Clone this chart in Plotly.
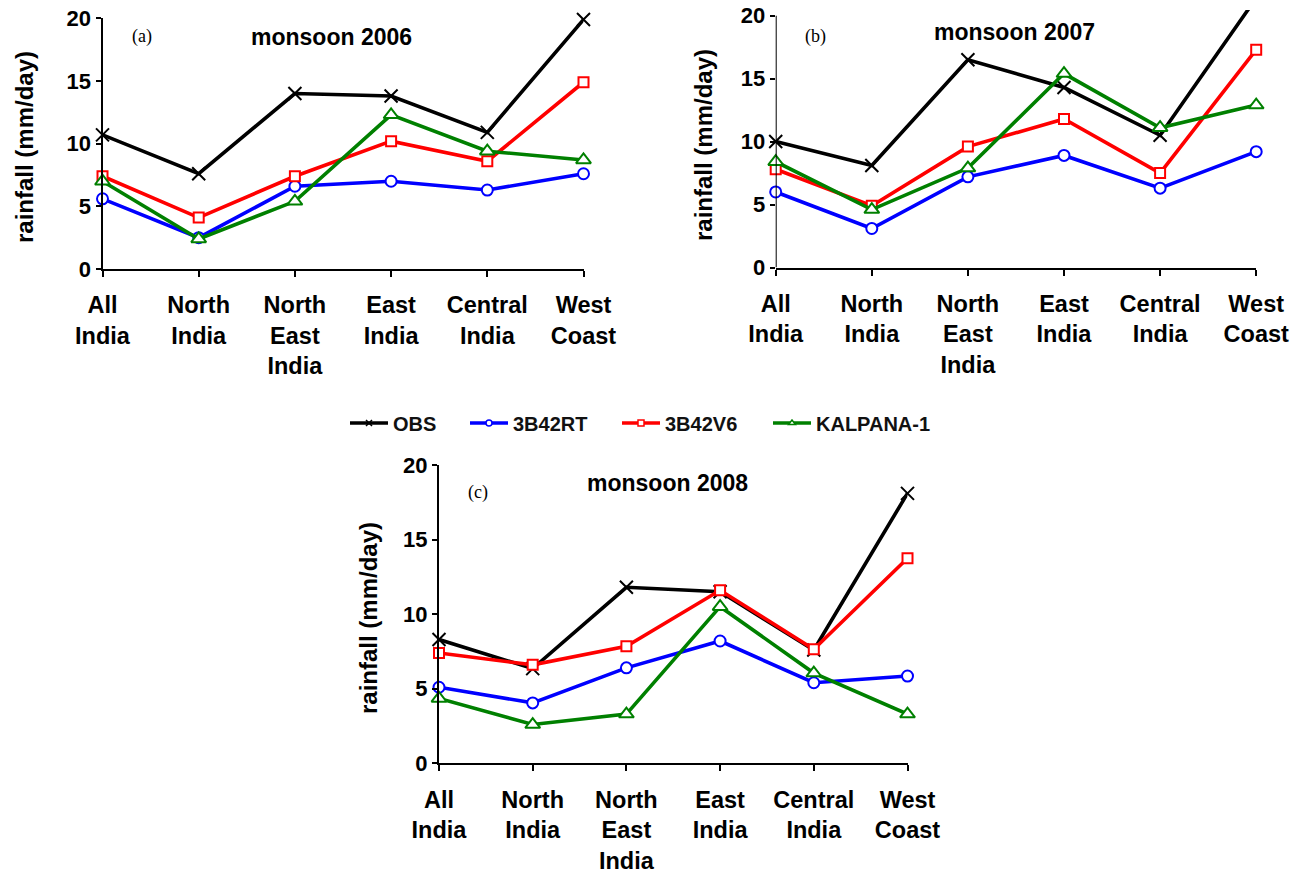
import plotly.graph_objects as go

# ---------------- data ----------------
categories = ["All India", "North India", "North East India", "East India", "Central India", "West Coast"]
tick_labels = ["All<br>India", "North<br>India", "North<br>East<br>India", "East<br>India",
               "Central<br>India", "West<br>Coast"]
series_names = ["OBS", "3B42RT", "3B42V6", "KALPANA-1"]

obs_2006 = [10.7, 7.6, 14.0, 13.8, 10.9, 19.9]
rt_2006 = [5.6, 2.5, 6.6, 7.0, 6.3, 7.6]
v6_2006 = [7.4, 4.1, 7.4, 10.2, 8.6, 14.9]
kal_2006 = [7.0, 2.4, 5.4, 12.3, 9.4, 8.7]

obs_2007 = [10.0, 8.1, 16.5, 14.3, 10.5, 21.4]
rt_2007 = [6.0, 3.1, 7.2, 8.9, 6.3, 9.2]
v6_2007 = [7.8, 4.9, 9.6, 11.8, 7.5, 17.3]
kal_2007 = [8.4, 4.6, 7.9, 15.4, 11.1, 12.9]

obs_2008 = [8.3, 6.35, 11.8, 11.5, 7.6, 18.1]
rt_2008 = [5.1, 4.05, 6.4, 8.2, 5.4, 5.85]
v6_2008 = [7.4, 6.6, 7.85, 11.6, 7.65, 13.75]
kal_2008 = [4.35, 2.6, 3.3, 10.5, 6.05, 3.3]

y_ticks = [0, 5, 10, 15, 20]
panel_titles = ["monsoon 2006", "monsoon 2007", "monsoon 2008"]
panel_tags = ["(a)", "(b)", "(c)"]
y_title = "rainfall (mm/day)"

# ---------------- layout helpers ----------------
W, H = 1299, 878
FONT = "Liberation Sans, Arial, sans-serif"
SERIF = "Liberation Serif, Times New Roman, serif"


def fx(p):
    return p / W


def fy(p):
    return 1 - p / H


styles = {
    "OBS": dict(color="#000000", symbol="x-thin", size=13, fill="#000000"),
    "3B42RT": dict(color="#0000FF", symbol="circle", size=11, fill="#FFFFFF"),
    "3B42V6": dict(color="#FF0000", symbol="square", size=10, fill="#FFFFFF"),
    "KALPANA-1": dict(color="#008000", symbol="triangle-up", size=13, fill="#FFFFFF"),
}

panels = [
    dict(xa="x", ya="y", data=[obs_2006, rt_2006, v6_2006, kal_2006],
         xdom=[fx(102.5), fx(583.5)], ydom=[fy(269.0), fy(18.3)], yrange=[0, 20],
         title_xy=(331, 37), tag_xy=(141.7, 36.7), ytitle_xy=(24, 147)),
    dict(xa="x2", ya="y2", data=[obs_2007, rt_2007, v6_2007, kal_2007],
         xdom=[fx(775.7), fx(1256.2)], ydom=[fy(267.5), fy(10.0)], yrange=[0, 20.45],
         title_xy=(1014, 32), tag_xy=(815, 36.7), ytitle_xy=(703, 145)),
    dict(xa="x3", ya="y3", data=[obs_2008, rt_2008, v6_2008, kal_2008],
         xdom=[fx(439.0), fx(907.5)], ydom=[fy(763.3), fy(465.0)], yrange=[0, 20],
         title_xy=(667, 483), tag_xy=(478, 492), ytitle_xy=(368, 618)),
]

fig = go.Figure()

for p in panels:
    for name, vals in zip(series_names, p["data"]):
        st = styles[name]
        fig.add_trace(go.Scatter(
            x=categories, y=vals, name=name, mode="lines+markers",
            xaxis=p["xa"], yaxis=p["ya"], showlegend=False, cliponaxis=False,
            line=dict(color=st["color"], width=3.6),
            marker=dict(symbol=st["symbol"], size=st["size"], color=st["fill"],
                        line=dict(color=st["color"], width=2)),
        ))

# legend entries (one legend per series so they can be spaced like the original)
legend_ids = ["legend", "legend2", "legend3", "legend4"]
legend_left = [345, 465, 617, 768]
for name, lid in zip(series_names, legend_ids):
    st = styles[name]
    fig.add_trace(go.Scatter(
        x=[None], y=[None], name=name, mode="lines+markers", legend=lid,
        xaxis="x3", yaxis="y3", showlegend=True,
        line=dict(color=st["color"], width=3.5),
        marker=dict(symbol=st["symbol"], size=6, color=st["fill"],
                    line=dict(color=st["color"], width=1.5)),
    ))

layout = dict(
    width=W, height=H, margin=dict(l=0, r=0, t=0, b=0, autoexpand=False),
    paper_bgcolor="white", plot_bgcolor="white",
    font=dict(family=FONT, color="black"),
)

for i, p in enumerate(panels):
    sfx = "" if i == 0 else str(i + 1)
    layout["xaxis" + sfx] = dict(
        domain=p["xdom"], anchor=p["ya"], type="category", automargin=False,
        categoryorder="array", categoryarray=categories, range=[0, 5],
        tickvals=categories, ticktext=tick_labels, ticklabelstandoff=8,
        ticks="outside", ticklen=6, tickwidth=2, tickcolor="black",
        showline=True, linecolor="black", linewidth=2,
        showgrid=False, zeroline=False,
        tickfont=dict(family=FONT, size=23.5, color="black", weight="bold"),
    )
    layout["yaxis" + sfx] = dict(
        domain=p["ydom"], anchor=p["xa"], range=p["yrange"], automargin=False,
        tickvals=y_ticks, ticks="outside", ticklen=5, tickwidth=2, tickcolor="black",
        showline=(i != 1), linecolor="black", linewidth=2,
        showgrid=False, zeroline=False,
        tickfont=dict(family=FONT, size=22, color="black", weight="bold"),
    )

for lid, left in zip(legend_ids, legend_left):
    layout[lid] = dict(
        x=fx(left), y=fy(423), xanchor="left", yanchor="middle",
        orientation="h", bgcolor="rgba(0,0,0,0)", borderwidth=0,
        font=dict(family=FONT, size=20, color="#111111", weight="bold"),
        itemwidth=38,
    )

fig.update_layout(**layout)

# y axis line of panel (b) stops at 20 while the plot area continues a bit higher
fig.add_shape(type="line", xref="x2", yref="y2", x0=0, x1=0, y0=0, y1=20,
              line=dict(color="black", width=2), layer="above")

for i, p in enumerate(panels):
    tx, ty = p["title_xy"]
    fig.add_annotation(text=panel_titles[i], x=fx(tx), y=fy(ty), xref="paper", yref="paper",
                       showarrow=False, xanchor="center", yanchor="middle",
                       font=dict(family=FONT, size=23, color="black", weight="bold"))
    gx, gy = p["tag_xy"]
    fig.add_annotation(text=panel_tags[i], x=fx(gx), y=fy(gy), xref="paper", yref="paper",
                       showarrow=False, xanchor="center", yanchor="middle",
                       font=dict(family=SERIF, size=18, color="black"))
    ax, ay = p["ytitle_xy"]
    fig.add_annotation(text=y_title, x=fx(ax), y=fy(ay), xref="paper", yref="paper",
                       showarrow=False, xanchor="center", yanchor="middle", textangle=-90,
                       font=dict(family=FONT, size=24, color="black", weight="bold"))

fig.write_html("out.html")
